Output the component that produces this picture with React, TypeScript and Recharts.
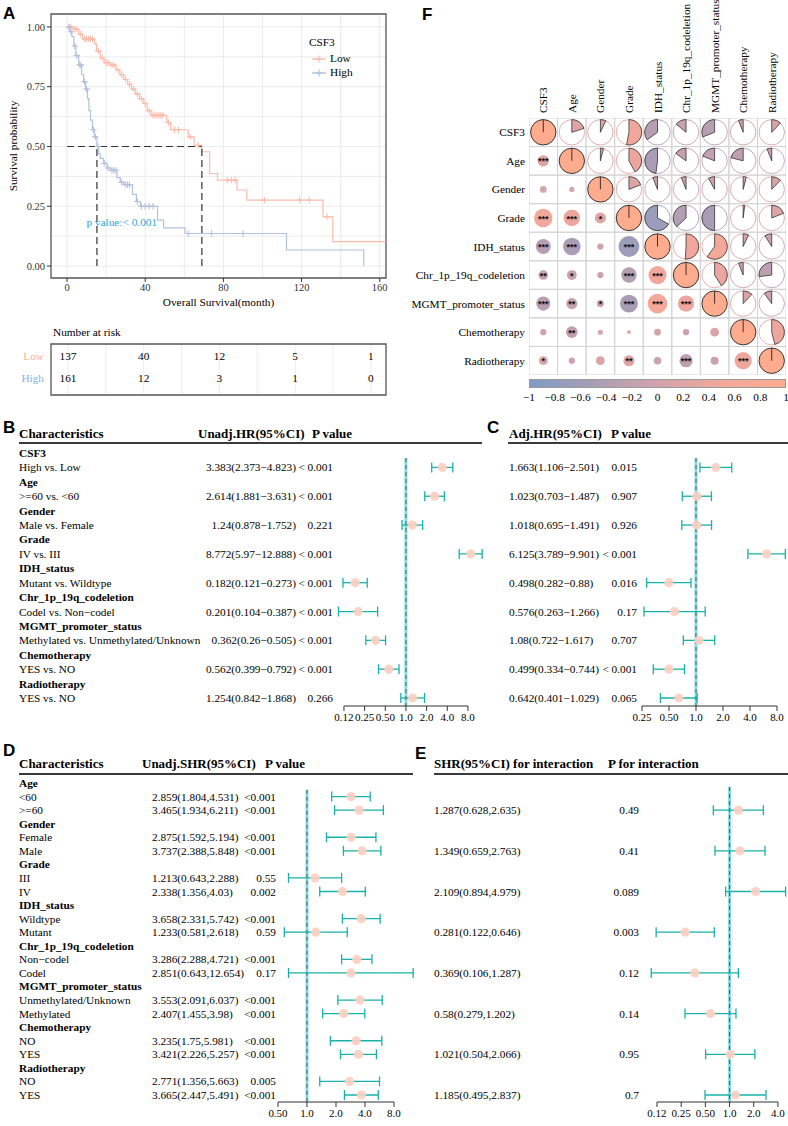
import React from "react";
import {
  ComposedChart,
  ScatterChart,
  Line,
  Scatter,
  XAxis,
  YAxis,
  CartesianGrid,
  ReferenceLine,
  ReferenceArea,
  ReferenceDot,
  ErrorBar,
} from "recharts";

const SERIF = "'Liberation Serif', 'Times New Roman', serif";
const SANS = "'Liberation Sans', Arial, sans-serif";
const M = "\u2212";
const FS = 11.3;

// ---------- A: Kaplan-Meier ----------
const lowTimes = [0, 3, 6, 8, 14, 15, 17, 19, 22, 25, 27, 29, 31, 33, 35, 37, 39, 41, 43, 51, 53, 62, 65, 69, 73, 77, 87, 92, 131, 136, 163];
const lowSurv = [1, 0.99, 0.97, 0.95, 0.93, 0.9, 0.87, 0.85, 0.84, 0.82, 0.8, 0.78, 0.76, 0.74, 0.72, 0.7, 0.68, 0.65, 0.63, 0.6, 0.57, 0.54, 0.505, 0.478, 0.387, 0.359, 0.318, 0.276, 0.206, 0.102, 0.102];
const highTimes = [0, 1.5, 2.5, 3.5, 4.5, 6, 7.5, 8.5, 9.5, 10.5, 11.2, 12, 13, 14, 15.3, 16.2, 17, 18.7, 20.4, 22.5, 25.5, 27.2, 29, 33.5, 35.5, 37.5, 46.3, 49.4, 60.4, 112.3, 151.8];
const highSurv = [1, 0.98, 0.96, 0.92, 0.88, 0.84, 0.8, 0.77, 0.74, 0.7, 0.65, 0.61, 0.57, 0.54, 0.5, 0.47, 0.45, 0.43, 0.41, 0.4, 0.37, 0.35, 0.34, 0.3, 0.27, 0.25, 0.192, 0.16, 0.136, 0.067, 0];

const lowCensorT = [1, 2, 4, 5, 7, 9, 10, 11, 12, 13, 16, 18, 20, 21, 23, 24, 26, 28, 30, 32, 34, 36, 38, 40, 42, 44, 45, 46, 47, 48, 49, 52, 55, 57, 63, 67, 82, 84, 86, 101, 119, 124, 133];
const lowCensorS = [1, 1, 0.99, 0.99, 0.97, 0.95, 0.95, 0.95, 0.95, 0.95, 0.9, 0.87, 0.85, 0.85, 0.84, 0.84, 0.82, 0.8, 0.78, 0.76, 0.74, 0.72, 0.7, 0.68, 0.65, 0.63, 0.63, 0.63, 0.63, 0.63, 0.63, 0.6, 0.57, 0.57, 0.54, 0.505, 0.359, 0.359, 0.359, 0.276, 0.276, 0.276, 0.206];
const highCensorT = [1, 2, 4, 5, 6.5, 7, 9, 10, 13.5, 14.5, 15.8, 19, 21, 23, 24, 25, 28, 30, 31, 32, 36, 38, 40, 42, 44, 62, 74, 90];
const highCensorS = [1, 0.98, 0.92, 0.88, 0.84, 0.84, 0.77, 0.74, 0.57, 0.54, 0.5, 0.43, 0.41, 0.4, 0.4, 0.4, 0.35, 0.34, 0.34, 0.34, 0.27, 0.25, 0.25, 0.25, 0.25, 0.136, 0.136, 0.136];

const medianLow = 69;
const medianHigh = 15.3;

const riskTimes = [0, 40, 80, 120, 160];
const riskLow = [137, 40, 12, 5, 1];
const riskHigh = [161, 12, 3, 1, 0];

const LOW_COL = "#fbbcab";
const HIGH_COL = "#b2c1dc";

// ---------- B / C: Cox regression ----------
const uniVars = ["CSF3", "Age", "Gender", "Grade", "IDH_status", "Chr_1p_19q_codeletion", "MGMT_promoter_status", "Chemotherapy", "Radiotherapy"];
const uniContrasts = ["High vs. Low", ">=60 vs. <60", "Male vs. Female", "IV vs. III", "Mutant vs. Wildtype", "Codel vs. Non" + M + "codel", "Methylated vs. Unmethylated/Unknown", "YES vs. NO", "YES vs. NO"];
const uniHR = [3.383, 2.614, 1.24, 8.772, 0.182, 0.201, 0.362, 0.562, 1.254];
const uniLo = [2.373, 1.881, 0.878, 5.97, 0.121, 0.104, 0.26, 0.399, 0.842];
const uniHi = [4.823, 3.631, 1.752, 12.888, 0.273, 0.387, 0.505, 0.792, 1.868];
const uniP = ["< 0.001", "< 0.001", "0.221", "< 0.001", "< 0.001", "< 0.001", "< 0.001", "< 0.001", "0.266"];
const adjHR = [1.663, 1.023, 1.018, 6.125, 0.498, 0.576, 1.08, 0.499, 0.642];
const adjLo = [1.106, 0.703, 0.695, 3.789, 0.282, 0.263, 0.722, 0.334, 0.401];
const adjHi = [2.501, 1.487, 1.491, 9.901, 0.88, 1.266, 1.617, 0.744, 1.029];
const adjP = ["0.015", "0.907", "0.926", "< 0.001", "0.016", "0.17", "0.707", "< 0.001", "0.065"];

// ---------- D / E: subgroup SHR ----------
const subVars = ["Age", "Gender", "Grade", "IDH_status", "Chr_1p_19q_codeletion", "MGMT_promoter_status", "Chemotherapy", "Radiotherapy"];
const subLevels = [["<60", ">=60"], ["Female", "Male"], ["III", "IV"], ["Wildtype", "Mutant"], ["Non" + M + "codel", "Codel"], ["Unmethylated/Unknown", "Methylated"], ["NO", "YES"], ["NO", "YES"]];
const subHR = [[2.859, 3.465], [2.875, 3.737], [1.213, 2.338], [3.658, 1.233], [3.286, 2.851], [3.553, 2.407], [3.235, 3.421], [2.771, 3.665]];
const subLo = [[1.804, 1.934], [1.592, 2.388], [0.643, 1.356], [2.331, 0.581], [2.288, 0.643], [2.091, 1.455], [1.75, 2.226], [1.356, 2.447]];
const subHi = [[4.531, 6.211], [5.194, 5.848], [2.288, 4.03], [5.742, 2.618], [4.721, 12.654], [6.037, 3.98], [5.981, 5.257], [5.663, 5.491]];
const subP = [["<0.001", "<0.001"], ["<0.001", "<0.001"], ["0.55", "0.002"], ["<0.001", "0.59"], ["<0.001", "0.17"], ["<0.001", "<0.001"], ["<0.001", "<0.001"], ["0.005", "<0.001"]];
const intHR = [1.287, 1.349, 2.109, 0.281, 0.369, 0.58, 1.021, 1.185];
const intLo = [0.628, 0.659, 0.894, 0.122, 0.106, 0.279, 0.504, 0.495];
const intHi = [2.635, 2.763, 4.979, 0.646, 1.287, 1.202, 2.066, 2.837];
const intP = ["0.49", "0.41", "0.089", "0.003", "0.12", "0.14", "0.95", "0.7"];

// ---------- F: correlation matrix ----------
const corrVars = ["CSF3", "Age", "Gender", "Grade", "IDH_status", "Chr_1p_19q_codeletion", "MGMT_promoter_status", "Chemotherapy", "Radiotherapy"];
const corrUpper = [
  [0.2, 0.07, 0.53, -0.35, -0.14, -0.31, -0.06, 0.12],
  [0.04, 0.42, -0.48, -0.15, -0.19, -0.21, -0.06],
  [0.19, -0.06, -0.06, -0.08, 0.04, 0.12],
  [-0.67, -0.37, -0.5, 0.02, 0.19],
  [0.51, 0.6, 0.07, -0.09],
  [0.41, -0.06, -0.27],
  [0.12, -0.1],
  [0.46],
];
const corrSig = [
  [],
  ["***"],
  ["", ""],
  ["***", "***", "*"],
  ["***", "***", "", "***"],
  ["**", "*", "", "***", "***"],
  ["***", "**", "*", "***", "***", "***"],
  ["", "**", "", "", "", "", ""],
  ["*", "", "", "**", "", "***", "", "***"],
];
const cbTicks = [-1, -0.8, -0.6, -0.4, -0.2, 0, 0.2, 0.4, 0.6, 0.8, 1];
const cbStops = [-1, -0.5, 0, 0.5, 1];
const cbColors = ["#7f9cc6", "#a99db6", "#d3a3ab", "#f1a79c", "#ffab8e"];

function hexRgb(h: string) {
  return [1, 3, 5].map((i) => parseInt(h.slice(i, i + 2), 16));
}
function corrColor(v: number) {
  let k = 0;
  while (k < cbStops.length - 2 && v > cbStops[k + 1]) k++;
  const f = (v - cbStops[k]) / (cbStops[k + 1] - cbStops[k]);
  const a = hexRgb(cbColors[k]);
  const b = hexRgb(cbColors[k + 1]);
  const c = a.map((x, i) => Math.round(x + (b[i] - x) * f));
  return `rgb(${c[0]},${c[1]},${c[2]})`;
}
function corrAt(i: number, j: number) {
  if (i === j) return 1;
  const a = Math.min(i, j);
  const b = Math.max(i, j);
  return corrUpper[a][b - a - 1];
}

const corrCells: any[] = [];
corrVars.forEach((_, i) => {
  corrVars.forEach((__, j) => {
    corrCells.push({
      x: j,
      y: i,
      r: corrAt(i, j),
      kind: i === j ? "diag" : j > i ? "pie" : "circle",
      sig: j < i ? corrSig[i][j] : "",
    });
  });
});

const CELL = 257 / 9;
const RMAX = 12.7;

function piePath(cx: number, cy: number, R: number, v: number) {
  const a = Math.abs(v) * 2 * Math.PI;
  const dir = v >= 0 ? 1 : -1;
  const ex = cx + dir * R * Math.sin(a);
  const ey = cy - R * Math.cos(a);
  const large = Math.abs(v) > 0.5 ? 1 : 0;
  const sweep = v >= 0 ? 1 : 0;
  return `M${cx},${cy} L${cx},${cy - R} A${R},${R} 0 ${large} ${sweep} ${ex},${ey} Z`;
}

function CorrCell(props: any) {
  const { cx, cy, payload } = props;
  const h = CELL / 2;
  const col = corrColor(payload.r);
  let inner: React.ReactNode = null;
  if (payload.kind === "diag") {
    inner = (
      <g>
        <circle cx={cx} cy={cy} r={RMAX} fill={col} stroke="#222" strokeWidth={0.9} />
        <line x1={cx} y1={cy} x2={cx} y2={cy - RMAX} stroke="#222" strokeWidth={0.9} />
      </g>
    );
  } else if (payload.kind === "pie") {
    inner = (
      <g>
        <circle cx={cx} cy={cy} r={RMAX} fill="#fff" stroke={col} strokeWidth={0.9} />
        <path d={piePath(cx, cy, RMAX, payload.r)} fill={col} stroke="#333" strokeWidth={0.8} />
      </g>
    );
  } else {
    inner = (
      <g>
        <circle cx={cx} cy={cy} r={RMAX * Math.sqrt(Math.abs(payload.r))} fill={col} />
        {payload.sig ? (
          <text x={cx} y={cy + 3.6} textAnchor="middle" fontSize={9} fontWeight={700} fill="#111" fontFamily={SANS}>
            {payload.sig}
          </text>
        ) : null}
      </g>
    );
  }
  return (
    <g>
      <rect x={cx - h} y={cy - h} width={CELL} height={CELL} fill="none" stroke="#d4d4d4" strokeWidth={1} />
      {inner}
    </g>
  );
}

// ---------- helpers ----------
function T(props: { x: number; y: number; children: React.ReactNode; bold?: boolean; size?: number; anchor?: string; font?: string; color?: string }) {
  const { x, y, children, bold, size = FS, anchor = "start", font = SERIF, color = "#000" } = props;
  const tx = anchor === "start" ? "translate(0,-50%)" : anchor === "end" ? "translate(-100%,-50%)" : "translate(-50%,-50%)";
  return (
    <div style={{ position: "absolute", left: x, top: y, transform: tx, fontFamily: font, fontSize: size, fontWeight: bold ? 700 : 400, color, whiteSpace: "nowrap", lineHeight: 1 }}>
      {children}
    </div>
  );
}
function HLine({ x1, x2, y }: { x1: number; x2: number; y: number }) {
  return <div style={{ position: "absolute", left: x1, top: y - 1, width: x2 - x1, height: 1.6, background: "#3a3a3a" }} />;
}
function Letter({ x, y, c }: { x: number; y: number; c: string }) {
  return <T x={x} y={y} bold size={17} font={SANS}>{c}</T>;
}

type FRow = { idx: number; label?: string; bold?: boolean; hr?: number; lo?: number; hi?: number; est?: string; p?: string };

interface ForestProps {
  rows: FRow[];
  left: number;
  top: number;
  plotLeft: number;
  plotRight: number;
  plotTop: number;
  plotBottom: number;
  xDomain: [number, number];
  yDomain: [number, number];
  ticks: number[];
  tickText: string[];
  labelX?: number;
  estX: number;
  estAnchor: "start" | "end";
  pX: number;
  refTop: number;
}

function Forest(f: ForestProps) {
  const width = f.plotRight - f.left;
  const height = f.plotBottom - f.top + 24;
  const pts = f.rows
    .filter((r) => r.hr != null)
    .map((r) => ({ x: r.hr, y: r.idx, err: [(r.hr as number) - (r.lo as number), (r.hi as number) - (r.hr as number)] }));
  const byIdx = new Map(f.rows.map((r) => [r.idx, r]));
  const idxTicks = f.rows.map((r) => r.idx);
  const rowTick = (p: any) => {
    const r = byIdx.get(p.payload.value);
    if (!r) return <g />;
    return (
      <g fontFamily={SERIF} fontSize={FS} fill="#000">
        {r.label != null && f.labelX != null ? (
          <text x={f.labelX - f.left} y={p.y} dominantBaseline="central" fontWeight={r.bold ? 700 : 400}>
            {r.label}
          </text>
        ) : null}
        {r.est ? (
          <text x={f.estX - f.left} y={p.y} dominantBaseline="central" textAnchor={f.estAnchor}>
            {r.est}
          </text>
        ) : null}
        {r.p ? (
          <text x={f.pX - f.left} y={p.y} dominantBaseline="central" textAnchor="end">
            {r.p}
          </text>
        ) : null}
      </g>
    );
  };
  const yb = f.yDomain[1];
  return (
    <div style={{ position: "absolute", left: f.left, top: f.top }}>
      <ScatterChart width={width} height={height} margin={{ top: f.plotTop - f.top, right: 0, bottom: 0, left: 0 }}>
        <XAxis
          type="number"
          dataKey="x"
          scale="log"
          domain={f.xDomain}
          allowDataOverflow
          ticks={f.ticks}
          interval={0}
          tickFormatter={(v: number) => f.tickText[f.ticks.indexOf(v)] ?? String(v)}
          axisLine={false}
          tickLine={{ stroke: "#333" }}
          tickSize={5}
          height={24}
          tick={{ fontSize: 11, fill: "#000", fontFamily: SERIF }}
        />
        <YAxis
          type="number"
          dataKey="y"
          domain={f.yDomain}
          allowDataOverflow
          reversed
          ticks={idxTicks}
          interval={0}
          width={f.plotLeft - f.left}
          axisLine={false}
          tickLine={false}
          tick={rowTick}
        />
        <ReferenceLine segment={[{ x: 1, y: f.refTop }, { x: 1, y: yb }]} stroke="#86dde1" strokeWidth={3} />
        <ReferenceLine segment={[{ x: 1, y: f.refTop }, { x: 1, y: yb }]} stroke="#4d5b5d" strokeWidth={1} strokeDasharray="4 3" />
        <ReferenceLine segment={[{ x: f.ticks[0], y: yb }, { x: f.ticks[f.ticks.length - 1], y: yb }]} stroke="#333" strokeWidth={1.2} />
        <Scatter
          data={pts}
          isAnimationActive={false}
          shape={(p: any) => <circle cx={p.cx} cy={p.cy} r={4.6} fill="#fccfc2" fillOpacity={0.92} />}
        >
          <ErrorBar dataKey="err" direction="x" width={5} stroke="#17b2a9" strokeWidth={1.3} />
        </Scatter>
      </ScatterChart>
    </div>
  );
}

// ---------- rows ----------
const coxRowsUni: FRow[] = [];
const coxRowsAdj: FRow[] = [];
uniVars.forEach((v, i) => {
  coxRowsUni.push({ idx: 2 * i, label: v, bold: true });
  coxRowsUni.push({
    idx: 2 * i + 1,
    label: uniContrasts[i],
    hr: uniHR[i],
    lo: uniLo[i],
    hi: uniHi[i],
    est: `${uniHR[i]}(${uniLo[i]}${M}${uniHi[i]})`,
    p: uniP[i],
  });
  coxRowsAdj.push({ idx: 2 * i });
  coxRowsAdj.push({
    idx: 2 * i + 1,
    hr: adjHR[i],
    lo: adjLo[i],
    hi: adjHi[i],
    est: `${adjHR[i]}(${adjLo[i]}${M}${adjHi[i]})`,
    p: adjP[i],
  });
});

const subRows: FRow[] = [];
const intRows: FRow[] = [];
subVars.forEach((v, g) => {
  subRows.push({ idx: 3 * g, label: v, bold: true });
  intRows.push({ idx: 3 * g });
  [0, 1].forEach((k) => {
    subRows.push({
      idx: 3 * g + 1 + k,
      label: subLevels[g][k],
      hr: subHR[g][k],
      lo: subLo[g][k],
      hi: subHi[g][k],
      est: `${subHR[g][k]}(${subLo[g][k]},${subHi[g][k]})`,
      p: subP[g][k],
    });
  });
  intRows.push({ idx: 3 * g + 1 });
  intRows.push({
    idx: 3 * g + 2,
    hr: intHR[g],
    lo: intLo[g],
    hi: intHi[g],
    est: `${intHR[g]}(${intLo[g]},${intHi[g]})`,
    p: intP[g],
  });
});

// ---------- panels ----------
function SurvivalPanel() {
  const low = lowTimes.map((t, i) => ({ t, s: lowSurv[i] }));
  const high = highTimes.map((t, i) => ({ t, s: highSurv[i] }));
  const lowC = lowCensorT.map((t, i) => ({ t, s: lowCensorS[i] }));
  const highC = highCensorT.map((t, i) => ({ t, s: highCensorS[i] }));
  const plus = (col: string) => (p: any) => (
    <path d={`M${p.cx - 3.2},${p.cy}h6.4M${p.cx},${p.cy - 3.2}v6.4`} stroke={col} strokeWidth={1.1} fill="none" />
  );
  const tickStyle = { fontSize: 10.5, fill: "#333", fontFamily: SERIF };
  return (
    <div style={{ position: "absolute", left: 0, top: 0 }}>
      <ComposedChart width={400} height={320} margin={{ top: 14, right: 14, bottom: 14, left: 0 }}>
        <CartesianGrid
          stroke="#ebebeb"
          verticalValues={[0, 20, 40, 60, 80, 100, 120, 140, 160]}
          horizontalValues={[0, 0.125, 0.25, 0.375, 0.5, 0.625, 0.75, 0.875, 1]}
        />
        <XAxis
          type="number"
          dataKey="t"
          domain={[-8.2, 163.2]}
          allowDataOverflow
          ticks={[0, 40, 80, 120, 160]}
          axisLine={false}
          tickSize={4}
          tickLine={{ stroke: "#333" }}
          height={28}
          tick={tickStyle}
          label={{ value: "Overall Survival(month)", position: "insideBottom", offset: 0, fontSize: FS, fill: "#000", fontFamily: SERIF }}
        />
        <YAxis
          type="number"
          dataKey="s"
          domain={[-0.05, 1.054]}
          allowDataOverflow
          ticks={[0, 0.25, 0.5, 0.75, 1]}
          tickFormatter={(v: number) => v.toFixed(2)}
          width={51}
          axisLine={false}
          tickSize={4}
          tickLine={{ stroke: "#333" }}
          tick={tickStyle}
          label={{
            content: (p: any) => {
              const x = p.viewBox.x + 13;
              const y = p.viewBox.y + p.viewBox.height / 2;
              return (
                <text x={x} y={y} transform={`rotate(-90 ${x} ${y})`} textAnchor="middle" dominantBaseline="central" fontSize={FS} fontFamily={SERIF} fill="#000">
                  Survival probability
                </text>
              );
            },
          }}
        />
        <ReferenceArea x1={-8.2} x2={163.2} y1={-0.05} y2={1.054} fill="none" stroke="#555" strokeWidth={1.3} />
        <Line data={low} dataKey="s" type="stepAfter" stroke={LOW_COL} strokeWidth={1.2} dot={false} isAnimationActive={false} />
        <Line data={high} dataKey="s" type="stepAfter" stroke={HIGH_COL} strokeWidth={1.2} dot={false} isAnimationActive={false} />
        <Scatter data={lowC} shape={plus(LOW_COL)} isAnimationActive={false} />
        <Scatter data={highC} shape={plus(HIGH_COL)} isAnimationActive={false} />
        <ReferenceLine segment={[{ x: 0, y: 0.5 }, { x: medianLow, y: 0.5 }]} stroke="#333" strokeWidth={1.2} strokeDasharray="7 4" />
        <ReferenceLine segment={[{ x: medianHigh, y: 0 }, { x: medianHigh, y: 0.5 }]} stroke="#333" strokeWidth={1.2} strokeDasharray="7 4" />
        <ReferenceLine segment={[{ x: medianLow, y: 0 }, { x: medianLow, y: 0.5 }]} stroke="#333" strokeWidth={1.2} strokeDasharray="7 4" />
        <ReferenceDot
          x={28}
          y={0.185}
          r={0}
          fill="none"
          stroke="none"
          label={{ value: "p value:< 0.001", position: "center", fill: "#2aa6e2", fontSize: FS, fontFamily: SERIF }}
        />
      </ComposedChart>
    </div>
  );
}

function RiskTable() {
  const rows = riskTimes.flatMap((t, i) => [
    { t, row: 0, n: riskLow[i] },
    { t, row: 1, n: riskHigh[i] },
  ]);
  const names = ["Low", "High"];
  const cols = ["#f7b0a2", "#86b3ea"];
  return (
    <div style={{ position: "absolute", left: 0, top: 340 }}>
      <ScatterChart width={400} height={60} margin={{ top: 4, right: 14, bottom: 5, left: 0 }}>
        <CartesianGrid stroke="#ececec" horizontal={false} verticalValues={[0, 20, 40, 60, 80, 100, 120, 140, 160]} />
        <XAxis type="number" dataKey="t" domain={[-9, 168]} allowDataOverflow hide />
        <YAxis
          type="number"
          dataKey="row"
          domain={[-0.55, 1.75]}
          allowDataOverflow
          reversed
          ticks={[0, 1]}
          interval={0}
          width={51}
          axisLine={false}
          tickLine={false}
          tick={(p: any) => (
            <text x={44} y={p.y} textAnchor="end" dominantBaseline="central" fontSize={FS} fontFamily={SERIF} fill={cols[p.payload.value]}>
              {names[p.payload.value]}
            </text>
          )}
        />
        <ReferenceArea x1={-9} x2={168} y1={-0.55} y2={1.75} fill="none" stroke="#555" strokeWidth={1.3} />
        <Scatter
          data={rows}
          isAnimationActive={false}
          shape={(p: any) => (
            <text x={p.cx} y={p.cy} textAnchor="middle" dominantBaseline="central" fontSize={FS} fontFamily={SERIF} fill="#000">
              {p.payload.n}
            </text>
          )}
        />
      </ScatterChart>
    </div>
  );
}

function CorrPanel() {
  const idx = corrVars.map((_, i) => i);
  const grad = `linear-gradient(to right, ${cbColors.map((c, i) => `${c} ${((cbStops[i] + 1) / 2) * 100}%`).join(", ")})`;
  return (
    <>
      <div style={{ position: "absolute", left: 400, top: 0 }}>
        <ScatterChart width={388} height={376} margin={{ top: 0, right: 2, bottom: 1, left: 0 }}>
          <XAxis
            type="number"
            dataKey="x"
            orientation="top"
            domain={[-0.5, 8.5]}
            allowDataOverflow
            ticks={idx}
            interval={0}
            height={118}
            axisLine={false}
            tickLine={false}
            tick={(p: any) => (
              <text x={p.x} y={113} transform={`rotate(-90 ${p.x} 113)`} textAnchor="start" dominantBaseline="central" fontSize={FS} fontFamily={SERIF} fill="#000">
                {corrVars[p.payload.value]}
              </text>
            )}
          />
          <YAxis
            type="number"
            dataKey="y"
            domain={[-0.5, 8.5]}
            allowDataOverflow
            reversed
            ticks={idx}
            interval={0}
            width={129}
            axisLine={false}
            tickLine={false}
            tick={(p: any) => (
              <text x={125} y={p.y} textAnchor="end" dominantBaseline="central" fontSize={FS} fontFamily={SERIF} fill="#000">
                {corrVars[p.payload.value]}
              </text>
            )}
          />
          <Scatter data={corrCells} shape={CorrCell} isAnimationActive={false} />
        </ScatterChart>
      </div>
      <div style={{ position: "absolute", left: 529, top: 379, width: 257, height: 9, background: grad, boxSizing: "border-box", border: "1px solid #9a9a9a" }} />
      {cbTicks.map((v) => (
        <T key={v} x={529 + ((v + 1) / 2) * 257} y={398} anchor="middle">
          {v < 0 ? M + String(-v) : String(v)}
        </T>
      ))}
    </>
  );
}

export default function App() {
  return (
    <div style={{ position: "relative", width: 788, height: 1126, overflow: "hidden", background: "#fff", fontFamily: SERIF }}>
      <style>{"body{margin:0}"}</style>

      {/* A */}
      <Letter x={3} y={13} c="A" />
      <SurvivalPanel />
      <T x={309} y={43}>CSF3</T>
      <svg style={{ position: "absolute", left: 311, top: 53 }} width={16} height={26}>
        <line x1={1} y1={6} x2={15} y2={6} stroke={LOW_COL} strokeWidth={1.4} />
        <path d="M8,2.5v7M4.5,6h7" stroke={LOW_COL} strokeWidth={1.2} />
        <line x1={1} y1={20} x2={15} y2={20} stroke={HIGH_COL} strokeWidth={1.4} />
        <path d="M8,16.5v7M4.5,20h7" stroke={HIGH_COL} strokeWidth={1.2} />
      </svg>
      <T x={330} y={59}>Low</T>
      <T x={330} y={73}>High</T>
      <T x={53} y={333}>Number at risk</T>
      <RiskTable />

      {/* F */}
      <Letter x={422} y={14} c="F" />
      <CorrPanel />

      {/* B / C */}
      <Letter x={3} y={427} c="B" />
      <T x={19} y={433} bold size={13}>Characteristics</T>
      <T x={198} y={433} bold size={13}>Unadj.HR(95%CI)</T>
      <T x={312} y={433} bold size={13}>P value</T>
      <HLine x1={19} x2={482} y={443} />
      <Forest
        rows={coxRowsUni}
        left={0}
        top={440}
        plotLeft={337.3}
        plotRight={488.6}
        plotTop={443}
        plotBottom={706}
        xDomain={[0.1, 16]}
        yDomain={[-0.694, 17.555]}
        ticks={[0.125, 0.25, 0.5, 1, 2, 4, 8]}
        tickText={["0.12", "0.25", "0.50", "1.0", "2.0", "4.0", "8.0"]}
        labelX={19}
        estX={296}
        estAnchor="end"
        pX={333}
        refTop={0.35}
      />
      <Letter x={487} y={427} c="C" />
      <T x={509} y={433} bold size={13}>Adj.HR(95%CI)</T>
      <T x={611} y={433} bold size={13}>P value</T>
      <HLine x1={508} x2={788} y={443} />
      <Forest
        rows={coxRowsAdj}
        left={500}
        top={440}
        plotLeft={642}
        plotRight={787.6}
        plotTop={443}
        plotBottom={706}
        xDomain={[0.25, 10.5]}
        yDomain={[-0.694, 17.555]}
        ticks={[0.25, 0.5, 1, 2, 4, 8]}
        tickText={["0.25", "0.50", "1.0", "2.0", "4.0", "8.0"]}
        estX={509}
        estAnchor="start"
        pX={637}
        refTop={0.35}
      />

      {/* D / E */}
      <Letter x={3} y={750} c="D" />
      <T x={19} y={763} bold size={13}>Characteristics</T>
      <T x={142} y={763} bold size={13}>Unadj.SHR(95%CI)</T>
      <T x={265} y={763} bold size={13}>P value</T>
      <HLine x1={19} x2={413} y={774} />
      <Forest
        rows={subRows}
        left={0}
        top={771}
        plotLeft={278}
        plotRight={414.3}
        plotTop={774}
        plotBottom={1102}
        xDomain={[0.5, 13]}
        yDomain={[-0.663, 23.516]}
        ticks={[0.5, 1, 2, 4, 8]}
        tickText={["0.50", "1.0", "2.0", "4.0", "8.0"]}
        labelX={19}
        estX={152}
        estAnchor="start"
        pX={276}
        refTop={0.5}
      />
      <Letter x={415} y={753} c="E" />
      <T x={434} y={763} bold size={13}>SHR(95%CI) for interaction</T>
      <T x={608} y={763} bold size={13}>P for interaction</T>
      <HLine x1={434} x2={788} y={774} />
      <Forest
        rows={intRows}
        left={400}
        top={771}
        plotLeft={649.2}
        plotRight={787.1}
        plotTop={774}
        plotBottom={1102}
        xDomain={[0.1, 5.2]}
        yDomain={[-0.663, 23.516]}
        ticks={[0.125, 0.25, 0.5, 1, 2, 4]}
        tickText={["0.12", "0.25", "0.50", "1.0", "2.0", "4.0"]}
        estX={434}
        estAnchor="start"
        pX={639}
        refTop={0.3}
      />
    </div>
  );
}
